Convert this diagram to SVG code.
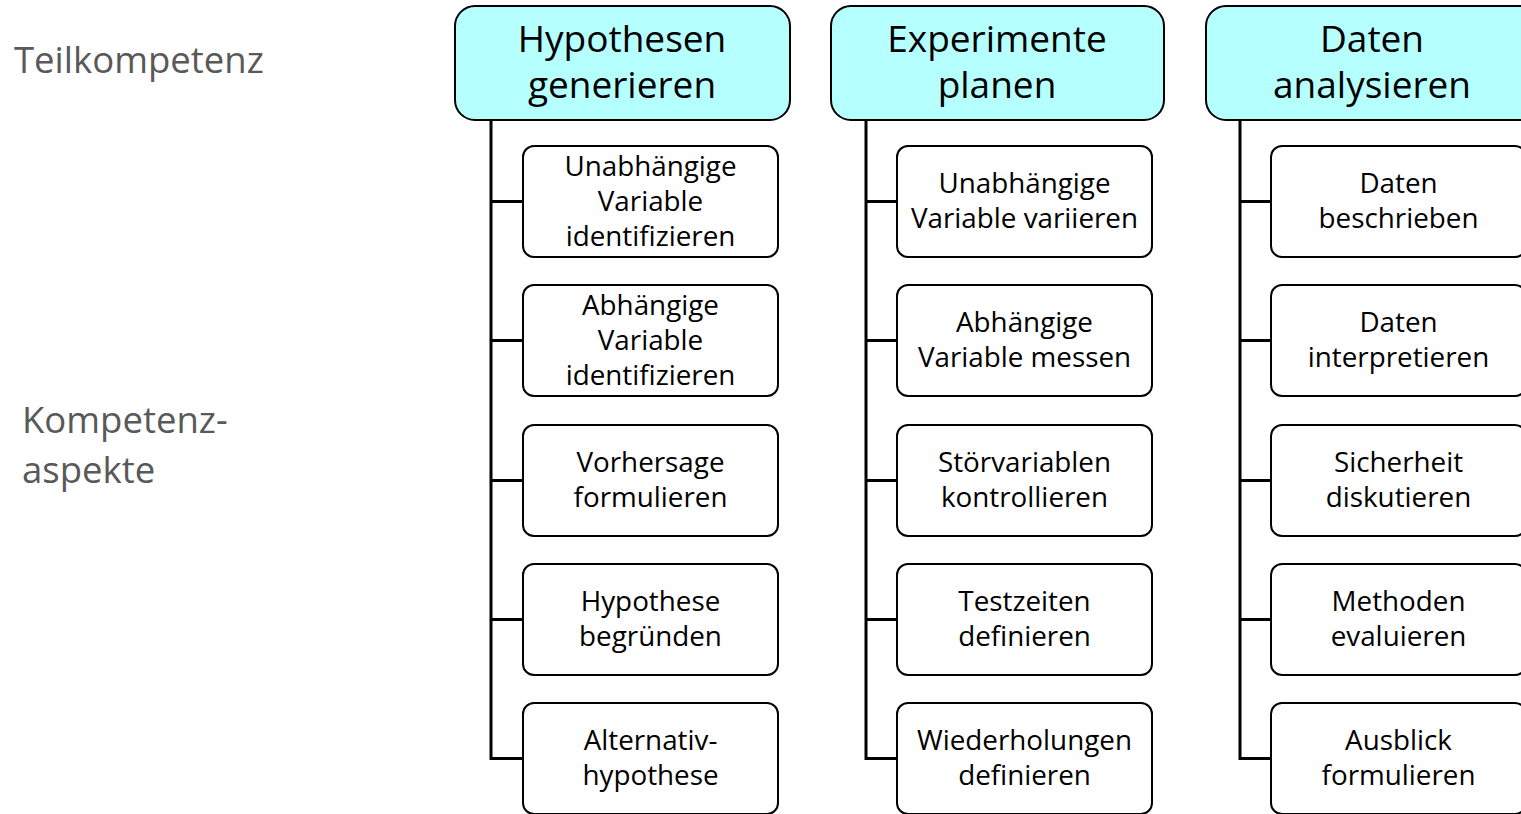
<svg xmlns="http://www.w3.org/2000/svg" width="1521" height="814" viewBox="0 0 1521 814">
  <style>
    .head rect { fill: #b5ffff; stroke: #000; stroke-width: 2; }
    .head text { font-family: "Open Sans", "Liberation Sans", sans-serif; font-size: 37px; fill: #000; text-anchor: middle; }
    .item rect { fill: #fff; stroke: #000; stroke-width: 2; }
    .item text { font-family: "Open Sans", "Liberation Sans", sans-serif; font-size: 27.8px; fill: #000; text-anchor: middle; }
    .side { font-family: "Open Sans", "Liberation Sans", sans-serif; font-size: 36.5px; fill: #595959; }
    #connectors path { fill: none; stroke: #000; stroke-width: 3; stroke-linejoin: miter; }
  </style>

  <!-- row labels -->
  <text class="side" x="14" y="73">Teilkompetenz</text>
  <text class="side" x="22" y="433">Kompetenz-</text>
  <text class="side" x="22" y="483">aspekte</text>

  <!-- tree connectors: trunk from each header ending in the last branch, plus the other branches -->
  <g id="connectors">
    <path d="M491 120 V758.5 H523 M491 201.5 H523 M491 340.5 H523 M491 480.5 H523 M491 619.5 H523"/>
    <path d="M866 120 V758.5 H897 M866 201.5 H897 M866 340.5 H897 M866 480.5 H897 M866 619.5 H897"/>
    <path d="M1240 120 V758.5 H1271 M1240 201.5 H1271 M1240 340.5 H1271 M1240 480.5 H1271 M1240 619.5 H1271"/>
  </g>

  <!-- column 1 -->
  <g id="hypothesen" class="head">
    <rect x="455" y="6" width="335" height="114" rx="20"/>
    <text x="622" y="52">Hypothesen</text>
    <text x="622" y="98">generieren</text>
  </g>
  <g id="h1" class="item">
    <rect x="523" y="146" width="255" height="111" rx="11"/>
    <text x="650.5" y="176">Unabhängige</text>
    <text x="650.5" y="211">Variable</text>
    <text x="650.5" y="246">identifizieren</text>
  </g>
  <g id="h2" class="item">
    <rect x="523" y="285" width="255" height="111" rx="11"/>
    <text x="650.5" y="315">Abhängige</text>
    <text x="650.5" y="350">Variable</text>
    <text x="650.5" y="385">identifizieren</text>
  </g>
  <g id="h3" class="item">
    <rect x="523" y="425" width="255" height="111" rx="11"/>
    <text x="650.5" y="472">Vorhersage</text>
    <text x="650.5" y="507">formulieren</text>
  </g>
  <g id="h4" class="item">
    <rect x="523" y="564" width="255" height="111" rx="11"/>
    <text x="650.5" y="611">Hypothese</text>
    <text x="650.5" y="646">begründen</text>
  </g>
  <g id="h5" class="item">
    <rect x="523" y="703" width="255" height="111" rx="11"/>
    <text x="650.5" y="750">Alternativ-</text>
    <text x="650.5" y="785">hypothese</text>
  </g>

  <!-- column 2 -->
  <g id="experimente" class="head">
    <rect x="831" y="6" width="333" height="114" rx="20"/>
    <text x="997" y="52">Experimente</text>
    <text x="997" y="98">planen</text>
  </g>
  <g id="e1" class="item">
    <rect x="897" y="146" width="255" height="111" rx="11"/>
    <text x="1024.5" y="193">Unabhängige</text>
    <text x="1024.5" y="228">Variable variieren</text>
  </g>
  <g id="e2" class="item">
    <rect x="897" y="285" width="255" height="111" rx="11"/>
    <text x="1024.5" y="332">Abhängige</text>
    <text x="1024.5" y="367">Variable messen</text>
  </g>
  <g id="e3" class="item">
    <rect x="897" y="425" width="255" height="111" rx="11"/>
    <text x="1024.5" y="472">Störvariablen</text>
    <text x="1024.5" y="507">kontrollieren</text>
  </g>
  <g id="e4" class="item">
    <rect x="897" y="564" width="255" height="111" rx="11"/>
    <text x="1024.5" y="611">Testzeiten</text>
    <text x="1024.5" y="646">definieren</text>
  </g>
  <g id="e5" class="item">
    <rect x="897" y="703" width="255" height="111" rx="11"/>
    <text x="1024.5" y="750">Wiederholungen</text>
    <text x="1024.5" y="785">definieren</text>
  </g>

  <!-- column 3 -->
  <g id="daten" class="head">
    <rect x="1206" y="6" width="334" height="114" rx="20"/>
    <text x="1372" y="52">Daten</text>
    <text x="1372" y="98">analysieren</text>
  </g>
  <g id="d1" class="item">
    <rect x="1271" y="146" width="255" height="111" rx="11"/>
    <text x="1398.5" y="193">Daten</text>
    <text x="1398.5" y="228">beschrieben</text>
  </g>
  <g id="d2" class="item">
    <rect x="1271" y="285" width="255" height="111" rx="11"/>
    <text x="1398.5" y="332">Daten</text>
    <text x="1398.5" y="367">interpretieren</text>
  </g>
  <g id="d3" class="item">
    <rect x="1271" y="425" width="255" height="111" rx="11"/>
    <text x="1398.5" y="472">Sicherheit</text>
    <text x="1398.5" y="507">diskutieren</text>
  </g>
  <g id="d4" class="item">
    <rect x="1271" y="564" width="255" height="111" rx="11"/>
    <text x="1398.5" y="611">Methoden</text>
    <text x="1398.5" y="646">evaluieren</text>
  </g>
  <g id="d5" class="item">
    <rect x="1271" y="703" width="255" height="111" rx="11"/>
    <text x="1398.5" y="750">Ausblick</text>
    <text x="1398.5" y="785">formulieren</text>
  </g>
</svg>
